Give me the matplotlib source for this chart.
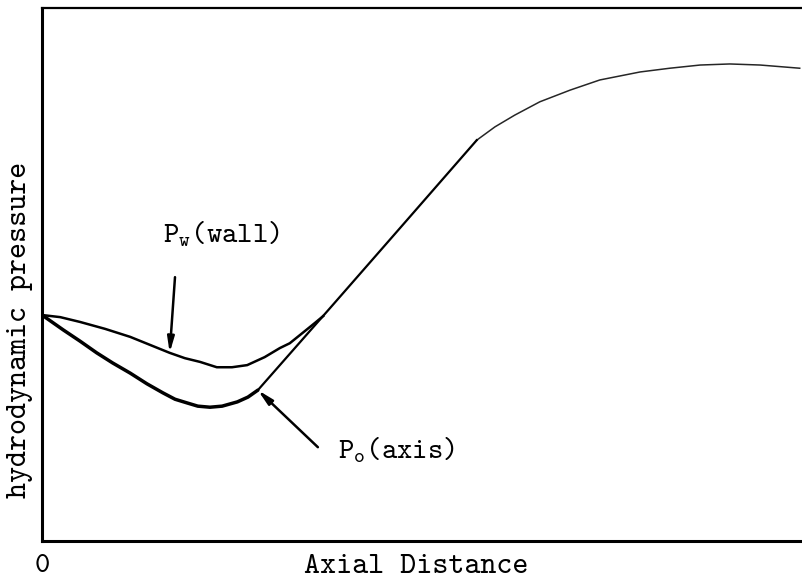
import matplotlib
matplotlib.use("Agg")
import matplotlib.pyplot as plt

plt.rcParams['mathtext.fontset'] = 'custom'
plt.rcParams['mathtext.rm'] = 'cmtt10'
plt.rcParams['mathtext.it'] = 'cmtt10'
plt.rcParams['mathtext.bf'] = 'cmtt10'

# pressure along the axis (lower branch, then common rise and plateau)
axis_x = [0.0, 1.3, 2.8, 5.0, 7.2, 9.3, 11.6, 13.8, 15.9, 17.5, 19.1, 20.5,
          22.1, 23.7, 25.7, 27.1, 28.4,
          37.9, 47.1, 57.2,
          59.6, 62.2, 65.5, 69.5, 73.4, 78.7, 82.6, 86.6, 90.5, 94.5, 99.7]
axis_y = [42.4, 41.1, 39.6, 37.5, 35.3, 33.4, 31.5, 29.5, 27.8, 26.6, 25.9, 25.3,
          25.1, 25.3, 26.1, 27.0, 28.3,
          43.7, 58.7, 75.2,
          77.7, 79.9, 82.4, 84.6, 86.5, 88.0, 88.7, 89.3, 89.5, 89.3, 88.7]
# pressure at the wall (upper branch, meets the axis curve on the rise)
wall_x = [0.0, 2.4, 5.0, 8.3, 11.6, 14.2, 16.8, 18.8, 20.8, 23.0, 25.0, 27.0,
          29.3, 31.3, 32.6, 34.6, 35.9, 37.0]
wall_y = [42.4, 42.0, 41.1, 39.8, 38.3, 36.8, 35.3, 34.3, 33.6, 32.6, 32.6, 33.0,
          34.5, 36.2, 37.1, 39.4, 40.9, 42.2]

xlabel = "Axial Distance"
ylabel = "hydrodynamic pressure"
tt = 'cmtt10'

fig = plt.figure(figsize=(8.02, 5.80), dpi=100)
ax = fig.add_axes([42/802, 39/580, 760/802, 533/580])

ax.plot(axis_x[:17], axis_y[:17], color='black', lw=2.5,
        solid_joinstyle='round', solid_capstyle='round')
ax.plot(axis_x[16:20], axis_y[16:20], color='black', lw=1.6)
ax.plot(axis_x[19:], axis_y[19:], color='black', lw=1.1, alpha=0.85,
        solid_joinstyle='round')
ax.plot(wall_x, wall_y, color='black', lw=1.8, solid_joinstyle='round')

arrow = dict(arrowstyle='-|>,head_length=0.9,head_width=0.2', lw=1.8,
             color='black', shrinkA=0, shrinkB=0)
ax.annotate('', xy=(wall_x[6], wall_y[6]), xytext=(17.5, 49.5), arrowprops=arrow)
ax.annotate('', xy=(axis_x[16], axis_y[16]), xytext=(36.3, 17.6), arrowprops=arrow)
ax.text(15.9, 56.1, r'$P_w(wall)$', fontsize=21, va='baseline', ha='left')
ax.text(38.9, 15.6, r'$P_o(axis)$', fontsize=21, va='baseline', ha='left')

ax.set_xlim(0, 100)
ax.set_ylim(0, 100)
ax.spines['right'].set_visible(False)
ax.spines['left'].set_linewidth(2.2)
ax.spines['bottom'].set_linewidth(2.2)
ax.spines['top'].set_linewidth(1.6)
ax.set_yticks([])
ax.set_xticks([0])
ax.set_xticklabels(['0'], fontfamily=tt, fontsize=21)
ax.tick_params(axis='x', length=0, pad=9)

fig.text(416/802, 1 - 567/580, xlabel, fontfamily=tt, fontsize=22,
         ha='center', va='center')
fig.text(20/802, 1 - 330/580, ylabel, fontfamily=tt, fontsize=22,
         ha='center', va='center', rotation=90)

fig.savefig('out.png', dpi=100)
